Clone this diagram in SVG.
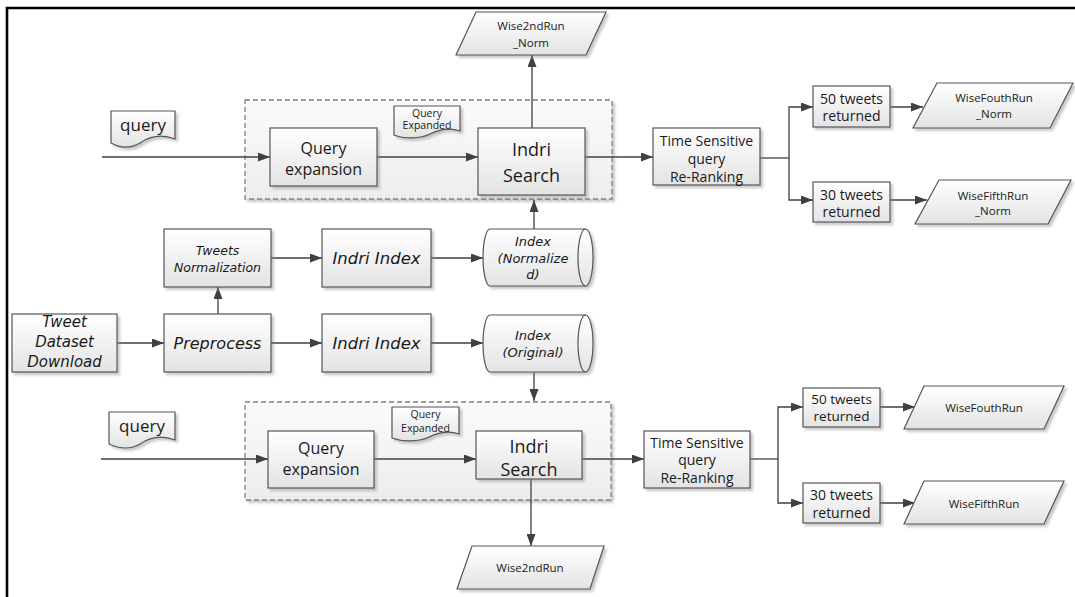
<svg xmlns="http://www.w3.org/2000/svg" width="1075" height="597" viewBox="0 0 1075 597">
<style>
.box{fill:url(#g);stroke:#555;stroke-width:1.2;filter:url(#sh)}
.grp{fill:url(#gg);stroke:#808080;stroke-width:1.3;stroke-dasharray:5 3;filter:url(#sh)}
.ln{fill:none;stroke:#404040;stroke-width:1.3}
.arr{fill:none;stroke:#404040;stroke-width:1.3;marker-end:url(#ah)}
.t{font-family:"Open Sans","Liberation Sans",sans-serif;fill:#1a1a1a;text-anchor:middle;dominant-baseline:central}
.i{font-family:"DejaVu Sans","Liberation Sans",sans-serif;font-style:italic;fill:#1a1a1a;text-anchor:middle;dominant-baseline:central}
</style>
<defs>
<linearGradient id="g" x1="0" y1="0" x2="0" y2="1"><stop offset="0" stop-color="#ffffff"/><stop offset="1" stop-color="#e3e3e3"/></linearGradient>
<linearGradient id="gg" x1="0" y1="0" x2="0" y2="1"><stop offset="0" stop-color="#fbfbfb"/><stop offset="1" stop-color="#ededed"/></linearGradient>
<filter id="sh" x="-10%" y="-10%" width="130%" height="140%"><feDropShadow dx="2.5" dy="2.5" stdDeviation="1.2" flood-color="#888" flood-opacity="0.45"/></filter>
<marker id="ah" markerWidth="12" markerHeight="9" refX="12" refY="4.5" orient="auto" markerUnits="userSpaceOnUse"><path d="M0,0 L12,4.5 L0,9 Z" fill="#404040"/></marker>
</defs>

<path d="M7,597 V8 H1075" fill="none" stroke="#000" stroke-width="2.6"/>

<!-- groups -->
<g id="group-top"><rect class="grp" x="245" y="100" width="367" height="99"/></g>
<g id="group-bottom"><rect class="grp" x="245" y="402" width="366" height="98"/></g>

<!-- connectors -->
<g id="connectors">
<path class="arr" d="M102,157 H270"/>
<path class="arr" d="M377,157 H478"/>
<path class="arr" d="M532,128 V55"/>
<path class="arr" d="M585,157 H653"/>
<path class="ln" d="M760,158 H789"/>
<path class="arr" d="M789,158 V107 H813"/>
<path class="arr" d="M789,158 V200 H813"/>
<path class="arr" d="M890,107 H923"/>
<path class="arr" d="M890,200 H927"/>
<path class="arr" d="M117,343 H164"/>
<path class="arr" d="M218,314 V287"/>
<path class="arr" d="M271,258 H322"/>
<path class="arr" d="M271,343 H322"/>
<path class="arr" d="M431,258 H483"/>
<path class="arr" d="M431,343 H483"/>
<path class="arr" d="M534,229 V200"/>
<path class="arr" d="M534,372 V401"/>
<path class="arr" d="M101,459 H268"/>
<path class="arr" d="M374,459 H476"/>
<path class="arr" d="M531,479 V546"/>
<path class="arr" d="M582,459 H644"/>
<path class="ln" d="M750,459 H778"/>
<path class="arr" d="M778,459 V407 H803"/>
<path class="arr" d="M778,459 V503 H803"/>
<path class="arr" d="M880,407 H915"/>
<path class="arr" d="M880,503 H915"/>
</g>

<!-- top row -->
<g id="query-top"><path class="box" d="M111,111 H175 V139 C162,134 150,136 140,143 C130,149 120,148 111,143 Z"/><text class="t" x="143" y="124" font-size="17">query</text></g>
<g id="qexp-top"><rect class="box" x="270" y="128" width="107" height="58"/><text class="t" x="323.5" y="148" font-size="16">Query</text><text class="t" x="323.5" y="169" font-size="16">expansion</text></g>
<g id="qexpanded-top"><path class="box" d="M394,106 H460 V131 C449,127 440,129 430,134 C420,139 404,139 394,135 Z"/><text class="t" x="427" y="113" font-size="10.5">Query</text><text class="t" x="427" y="125" font-size="10.5">Expanded</text></g>
<g id="indri-search-top"><rect class="box" x="478" y="128" width="107" height="67"/><text class="t" x="531.5" y="149" font-size="18">Indri</text><text class="t" x="531.5" y="175" font-size="18">Search</text></g>
<g id="wise2nd-norm"><polygon class="box" points="476,12 606,12 586,55 456,55"/><text class="t" x="531" y="25" font-size="11.5">Wise2ndRun</text><text class="t" x="531" y="42" font-size="11.5">_Norm</text></g>
<g id="tsr-top"><rect class="box" x="653" y="128" width="107" height="57"/><text class="t" x="706.5" y="140" font-size="14">Time Sensitive</text><text class="t" x="706.5" y="158" font-size="14">query</text><text class="t" x="706.5" y="176" font-size="14">Re-Ranking</text></g>
<g id="t50-top"><rect class="box" x="813" y="86" width="77" height="41"/><text class="t" x="851.5" y="98" font-size="14">50 tweets</text><text class="t" x="851.5" y="115" font-size="14">returned</text></g>
<g id="t30-top"><rect class="box" x="813" y="182" width="77" height="40"/><text class="t" x="851.5" y="194" font-size="14">30 tweets</text><text class="t" x="851.5" y="211" font-size="14">returned</text></g>
<g id="wise4-norm"><polygon class="box" points="937,83 1073,83 1050,128 913,128"/><text class="t" x="994" y="97" font-size="11.5">WiseFouthRun</text><text class="t" x="994" y="113" font-size="11.5">_Norm</text></g>
<g id="wise5-norm"><polygon class="box" points="939,180 1071,180 1048,224 915,224"/><text class="t" x="993" y="195" font-size="11.5">WiseFifthRun</text><text class="t" x="993" y="210" font-size="11.5">_Norm</text></g>

<!-- middle -->
<g id="tweets-norm"><rect class="box" x="164" y="229" width="107" height="58"/><text class="i" x="217.5" y="250" font-size="12.5">Tweets</text><text class="i" x="217.5" y="267" font-size="12.5">Normalization</text></g>
<g id="dataset"><rect class="box" x="12" y="314" width="105" height="58"/><text class="i" x="64.5" y="322" font-size="15">Tweet</text><text class="i" x="64.5" y="342" font-size="15">Dataset</text><text class="i" x="64.5" y="362" font-size="15">Download</text></g>
<g id="preprocess"><rect class="box" x="164" y="314" width="107" height="58"/><text class="i" x="217.5" y="343" font-size="16">Preprocess</text></g>
<g id="indri-index-norm"><rect class="box" x="322" y="229" width="109" height="58"/><text class="i" x="376.5" y="258" font-size="16.5">Indri Index</text></g>
<g id="indri-index-orig"><rect class="box" x="322" y="314" width="109" height="58"/><text class="i" x="376.5" y="343" font-size="16.5">Indri Index</text></g>
<g id="index-norm"><path class="box" d="M490,229 H585.5 A7.5,28.5 0 0 1 585.5,286 H490 A7,28.5 0 0 1 490,229 Z"/><path d="M585.5,229 A7.5,28.5 0 0 0 585.5,286" fill="none" stroke="#555" stroke-width="1.2"/><text class="i" x="533" y="241" font-size="13">Index</text><text class="i" x="533" y="258" font-size="13">(Normalize</text><text class="i" x="533" y="274" font-size="13">d)</text></g>
<g id="index-orig"><path class="box" d="M490,315 H585.5 A7.5,28.5 0 0 1 585.5,372 H490 A7,28.5 0 0 1 490,315 Z"/><path d="M585.5,315 A7.5,28.5 0 0 0 585.5,372" fill="none" stroke="#555" stroke-width="1.2"/><text class="i" x="533" y="335" font-size="13">Index</text><text class="i" x="533" y="352" font-size="13">(Original)</text></g>

<!-- bottom row -->
<g id="query-bottom"><path class="box" d="M109,412 H175 V440 C162,435 150,437 140,444 C130,450 120,449 109,444 Z"/><text class="t" x="142" y="425" font-size="17">query</text></g>
<g id="qexp-bottom"><rect class="box" x="268" y="431" width="106" height="57"/><text class="t" x="321" y="448" font-size="16">Query</text><text class="t" x="321" y="469" font-size="16">expansion</text></g>
<g id="qexpanded-bottom"><path class="box" d="M392,407 H459 V434 C448,430 439,432 429,437 C419,442 403,442 392,438 Z"/><text class="t" x="425.5" y="414" font-size="10.5">Query</text><text class="t" x="425.5" y="428" font-size="10.5">Expanded</text></g>
<g id="indri-search-bottom"><rect class="box" x="476" y="431" width="106" height="48"/><text class="t" x="529" y="446" font-size="18">Indri</text><text class="t" x="529" y="469" font-size="18">Search</text></g>
<g id="wise2nd"><polygon class="box" points="472,546 604,546 590,589 457,589"/><text class="t" x="530" y="567" font-size="11.5">Wise2ndRun</text></g>
<g id="tsr-bottom"><rect class="box" x="644" y="431" width="106" height="57"/><text class="t" x="697" y="442" font-size="14">Time Sensitive</text><text class="t" x="697" y="459" font-size="14">query</text><text class="t" x="697" y="477" font-size="14">Re-Ranking</text></g>
<g id="t50-bottom"><rect class="box" x="803" y="388" width="77" height="39"/><text class="t" x="841.5" y="398.5" font-size="13.5">50 tweets</text><text class="t" x="841.5" y="416" font-size="13.5">returned</text></g>
<g id="t30-bottom"><rect class="box" x="803" y="483" width="77" height="40"/><text class="t" x="841.5" y="494" font-size="14">30 tweets</text><text class="t" x="841.5" y="512" font-size="14">returned</text></g>
<g id="wise4"><polygon class="box" points="924,386 1064,386 1044,429 904,429"/><text class="t" x="984" y="407" font-size="11.5">WiseFouthRun</text></g>
<g id="wise5"><polygon class="box" points="924,481 1064,481 1044,524 904,524"/><text class="t" x="984" y="503" font-size="11.5">WiseFifthRun</text></g>
</svg>
